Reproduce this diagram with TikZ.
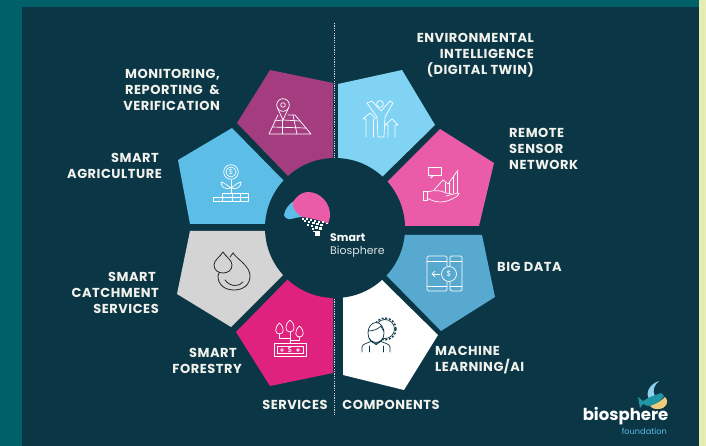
\documentclass[tikz,border=0pt]{standalone}
\usepackage{fontspec}
\setmainfont{Poppins}[BoldFont={Poppins Bold}]
\newfontfamily\labfont{Poppins}[BoldFont={Poppins Bold},LetterSpace=4]
\usetikzlibrary{calc}
\definecolor{panel}{HTML}{0B3646}
\definecolor{outer}{HTML}{00606A}
\definecolor{strip}{HTML}{E6EDB2}
\definecolor{cpurple}{HTML}{A43C80}
\definecolor{cleft}{HTML}{5CBDE6}
\definecolor{cgray}{HTML}{D4D4D4}
\definecolor{cmag}{HTML}{E0227F}
\definecolor{clight}{HTML}{80D3F3}
\definecolor{cpink}{HTML}{EA5CA8}
\definecolor{csteel}{HTML}{58A9CF}
\definecolor{txt}{HTML}{F2F2EC}
\tikzset{
 lab/.style={text=txt,font=\labfont\bfseries\fontsize{13}{16}\selectfont,inner sep=0pt,align=center},
 labl/.style={lab,align=left,anchor=west},
 labr/.style={lab,align=right,anchor=east},
 icon/.style={draw=white,line width=0.7pt,line join=round,line cap=round,fill=none},
 iconk/.style={draw=black!85,line width=0.8pt,line join=round,line cap=round,fill=none},
 iconw/.style={draw=panel,line width=0.7pt,line join=round,line cap=round,fill=none},
 px/.style={fill=white,draw=none}
}
\begin{document}
\begin{tikzpicture}[x=1pt,y=-1pt]
\useasboundingbox (0,0) rectangle (706,446);
\fill[outer] (0,0) rectangle (706,446);
\fill[panel] (22,7) rectangle (699,446);
\fill[strip] (699,0) rectangle (706,446);
% divider
\draw[white!85!panel,line width=0.7pt,dash pattern=on 1.2pt off 1.2pt] (334,23) -- (334,415);
% pentagons
\fill[cpurple] (335,228) -- (333,159) -- (333,83) -- (270,70) -- (237,123) -- (289,177) -- cycle;
\fill[cleft] (335,228) -- (284,181) -- (232,128) -- (178,160) -- (190,224) -- (267,224) -- cycle;
\fill[cgray] (335,228) -- (267,231) -- (190,231) -- (177,294) -- (231,327) -- (283,275) -- cycle;
\fill[cmag] (335,228) -- (288,279) -- (236,332) -- (270,386) -- (333,373) -- (333,297) -- cycle;
\fill[clight] (335,228) -- (338,159) -- (338,84) -- (402,70) -- (435,125) -- (382,177) -- cycle;
\fill[cpink] (335,228) -- (387,182) -- (440,129) -- (494,163) -- (479,226) -- (403,226) -- cycle;
\fill[csteel] (335,228) -- (405,235) -- (482,235) -- (495,297) -- (441,331) -- (388,277) -- cycle;
\fill[white] (335,228) -- (385,283) -- (438,335) -- (404,390) -- (343,375) -- (343,299) -- cycle;
\fill[panel] (335,228) circle[radius=70];
% map icon
\draw[icon] (283,105) circle[radius=6.3];
\draw[icon] (283,105) circle[radius=2.3];
\draw[icon] (277.5,108) -- (283,120) -- (288.5,108);
\draw[icon] (278,115) -- (269,134) -- (311,134) -- (295,115) -- (288,115);
\draw[icon] (272,127) -- (306,128);
\draw[icon] (274,121) -- (283,120) -- (300,121);
\draw[icon] (282,120) -- (282,134);
\draw[icon] (293,115) -- (297,134);
% plant icon
\draw[icon] (231,172) circle[radius=7.3];
\draw[icon] (231,172) circle[radius=5];
\node[text=white,font=\fontsize{7}{7}\selectfont,inner sep=0pt] (coin) at (231,172) {\$};
\draw[icon] (231,180) -- (231,193);
\draw[icon] (231,188) .. controls (226,184) and (222,182) .. (221,182) .. controls (221,187) and (225,190) .. (231,188);
\draw[icon] (231,188) .. controls (236,184) and (240,182) .. (241,182) .. controls (241,187) and (237,190) .. (231,188);
\draw[icon] (213,197) rectangle (248,201);
\draw[icon] (222,193) rectangle (240,197);
\draw[icon] (240,193) rectangle (248,197);
\draw[icon] (222,197) -- (222,201);
\draw[icon] (232,193) -- (232,201);
\draw[icon] (240,197) -- (240,201);
% drops
\draw[iconk] (233,253) .. controls (238,260) and (250,266) .. (250,276) .. controls (250,285) and (243,290) .. (234,290) .. controls (225,290) and (218,285) .. (218,276) -- (219,273);
\draw[iconk] (233,253) -- (230,257);
\draw[iconk] (223,252) .. controls (220,257) and (214,260) .. (214,265) .. controls (214,270) and (218,273) .. (223,273) .. controls (228,273) and (232,270) .. (232,265) .. controls (232,260) and (226,257) .. (223,252) -- cycle;
\draw[iconk] (225,280) .. controls (230,287) and (239,287) .. (243,282);
% money icon
\draw[icon] (274,343.5) rectangle (306,356.5);
\draw[icon] (277,346.5) rectangle (303,353.5);
\node[text=white,font=\fontsize{7.5}{7.5}\selectfont,inner sep=0pt] (bill) at (290,350) {\$};
\draw[icon] (282,350) circle[radius=1.4];
\draw[icon] (298,350) circle[radius=1.4];
\draw[icon] (279.5,323) .. controls (274,328) and (275,334) .. (279.5,334) .. controls (284,334) and (285,328) .. (279.5,323);
\draw[icon] (290,320) .. controls (284,325) and (285,332) .. (290,332) .. controls (295,332) and (296,325) .. (290,320);
\draw[icon] (299.5,326) .. controls (294,331) and (295,337) .. (299.5,337) .. controls (304,337) and (305,331) .. (299.5,326);
\draw[icon] (279.5,334) -- (279.5,338) -- (290,338) -- (290,343.5);
\draw[icon] (290,332) -- (290,338);
\draw[icon] (299.5,337) -- (299.5,340) -- (290,340);
% person icon
\draw[icon] (380,104) circle[radius=3.4];
\draw[icon] (367,103) -- (377,117) -- (378,137) -- (384,137) -- (385,117) -- (393,103) -- (390,101) -- (381,111) -- (372,101) -- cycle;
\draw[icon] (366,137) -- (366,119) -- (363,119) -- (370,113) -- (376,119);
\draw[icon] (373,119) -- (373,137);
\draw[icon] (388,137) -- (388,125) -- (385,125) -- (392,119) -- (398,125) -- (395,125) -- (395,137);
% hand chart icon
\draw[icon] (428,167.5) rectangle (441,175);
\draw[icon] (431,175) -- (431,178) -- (434,175);
\draw[icon] (423,191) rectangle (427,200);
\draw[icon] (427,192) .. controls (435,190) and (440,190) .. (446,193) -- (452,194);
\draw[icon] (446,196) -- (458,193) .. controls (461,193) and (457,197) .. (452,199) .. controls (442,204) and (434,202) .. (427,198);
\draw[icon] (434,190) -- (443,180) -- (448,184) -- (458,170);
\draw[icon] (449,182) -- (449,193);
\draw[icon] (453,177) -- (453,193);
\draw[icon] (457,172) -- (457,193);
\draw[icon] (445,183) -- (445,192);
% phones icon
\draw[icon,rounded corners=1.5pt] (427,256) rectangle (447,291);
\draw[icon,rounded corners=1.5pt] (450,256) rectangle (462,291);
\draw[icon] (427,261) -- (447,261);
\draw[icon] (427,286) -- (447,286);
\draw[icon] (450,261) -- (462,261);
\draw[icon] (450,286) -- (462,286);
\fill[csteel] (449,274) circle[radius=8];
\draw[icon] (449,274) circle[radius=7.5];
\node[text=white,font=\fontsize{7.5}{7.5}\selectfont,inner sep=0pt] (phone) at (449,274) {\$};
\draw[icon] (440,274) -- (432,274);
\draw[icon] (435,271) -- (432,274) -- (435,277);
% worker icon
\draw[iconw] (385,329) circle[radius=9.5];
\draw[iconw,dash pattern=on 2pt off 1.7pt,line cap=butt,line width=1.3pt] (385,329) circle[radius=11];
\fill[white,draw=panel,line width=0.7pt] (376,333) ellipse[x radius=8,y radius=10.5];
\fill[white] (362,353) rectangle (392,344);
\draw[iconw] (368,331) .. controls (374,331) and (378,329) .. (381,326) .. controls (382,329) and (383,330) .. (384,331);
\draw[iconw] (362,352) -- (362,347) .. controls (362,344) and (368,343) .. (372,341);
\draw[iconw] (380,341) .. controls (384,343) and (390,344) .. (390,347) -- (390,352);
\draw[iconw] (372,341) -- (376,345) -- (380,341);
\draw[iconw] (369,346) -- (369,352) (383,346) -- (383,352);
\draw[iconw] (369,338) .. controls (371,344) and (381,344) .. (383,338);
% centre logo
\fill[cleft] (284,215) .. controls (285,209) and (289,204) .. (294,201) -- (302,217) .. controls (296,217) and (291,220) .. (288,219) .. controls (286,218) and (284,217) .. (284,215) -- cycle;
\fill[cpink] (293,202) .. controls (298,194) and (304,192) .. (308,192) .. controls (320,192) and (331,203) .. (330,217) -- (328,224) .. controls (320,220) and (310,218) .. (302,217) .. controls (296,213) and (292,208) .. (293,202) -- cycle;
\foreach \a/\b/\s in {302/218/2,306/218/2,310/219/2,314/220/2,318/221/2,322/221/2,326/223/1.5,304/220.5/2,308/221/2,312/222/2.5,316/223/2.5,320/224/2.5,307/224/2,311/225/2,315/226/3,319/227.5/2.5,312/228/2,318/231/1.5,313/231/1.5,315/231/5}
  \fill[px] (\a,\b) rectangle ++(\s,\s);
\node[anchor=west,text=white,font=\bfseries\fontsize{11}{11}\selectfont,inner sep=0pt] (smart) at (330,238) {Smart};
\node[anchor=west,text=white!85!panel,font=\fontsize{11}{11}\selectfont,inner sep=0pt] (bio) at (330,252) {Biosphere};
% labels
\node[labr] (l1) at (534,55) {ENVIRONMENTAL\\INTELLIGENCE\\(DIGITAL TWIN)};
\node[labl] (l2) at (509,149) {REMOTE\\SENSOR\\NETWORK};
\node[labl] (l3) at (497,267) {BIG DATA};
\node[labl] (l4) at (435,360) {MACHINE\\LEARNING/AI};
\node[labr] (l5) at (220,90) {MONITORING,\\REPORTING\ \ \&\\VERIFICATION};
\node[labr] (l6) at (162,166) {SMART\hspace*{3pt}\\AGRICULTURE};
\node[labr] (l7) at (159,293) {SMART\hspace*{3pt}\\CATCHMENT\hspace*{4pt}\\SERVICES};
\node[labr] (l8) at (242,361) {SMART\hspace*{5pt}\\FORESTRY};
\node[lab] (l9) at (295,405) {SERVICES};
\node[lab] (l10) at (391,405) {COMPONENTS};
% bird logo
\fill[cleft!70!white] (659,381) .. controls (650,384) and (645,392) .. (649,399) -- (655,396) .. controls (652,391) and (654,385) .. (659,381) -- cycle;
\fill[teal!65!cleft] (638,397) -- (643,401) -- (650,397) -- (661,393) -- (664,396) .. controls (660,402) and (654,406) .. (648,406) -- (643,404) -- (640,408) -- cycle;
\fill[strip!70!orange] (650,406) .. controls (657,404) and (662,400) .. (665,397) .. controls (670,402) and (666,409) .. (658,409) .. controls (654,409) and (651,408) .. (650,406) -- cycle;
\node[text=white,font=\bfseries\fontsize{16.5}{16.5}\selectfont,inner sep=0pt,anchor=center] (bf) at (625.5,416) {biosphere};
\node[text=cleft,font=\fontsize{8.2}{8.2}\selectfont,inner sep=0pt,anchor=east] (fnd) at (667,431) {foundation};
\end{tikzpicture}
\end{document}
